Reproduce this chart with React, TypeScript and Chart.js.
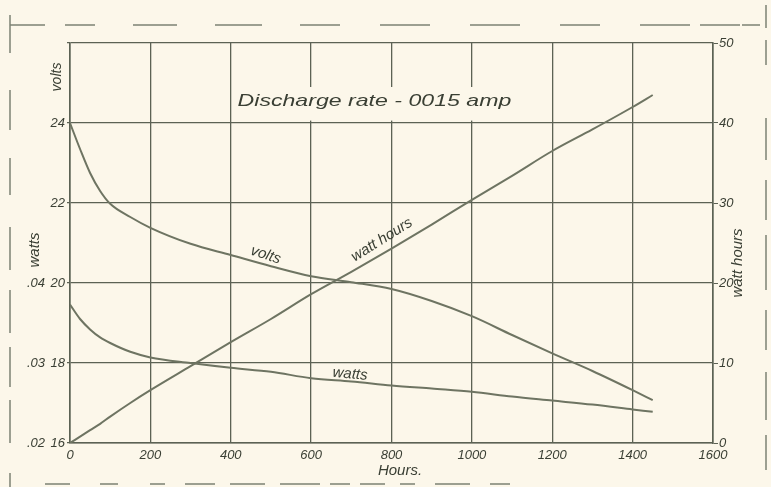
import React, { useEffect, useRef } from "react";
import { Chart, registerables } from "chart.js";
Chart.register(...registerables);

// ---- data ----
const hours = [0, 25, 50, 75, 100, 150, 200, 300, 400, 500, 600, 700, 800, 900, 1000, 1100, 1200, 1300, 1400, 1450];
const volts = [24, 23.35, 22.75, 22.3, 21.98, 21.65, 21.38, 20.98, 20.7, 20.42, 20.17, 20.02, 19.85, 19.55, 19.17, 18.7, 18.24, 17.8, 17.32, 17.07];
const watts = [0.0373, 0.0355, 0.0342, 0.0332, 0.0325, 0.0314, 0.0307, 0.03, 0.0294, 0.0289, 0.0281, 0.0277, 0.0272, 0.0268, 0.0264, 0.0258, 0.0253, 0.0248, 0.0242, 0.0239];
const wattHours = [0, 0.8, 1.6, 2.4, 3.3, 5.0, 6.6, 9.6, 12.6, 15.5, 18.6, 21.4, 24.3, 27.3, 30.4, 33.4, 36.5, 39.2, 42.0, 43.5];

const hourRange = [0, 1600];
const voltRange = [16, 26];
const wattRange = [0.02, 0.07];
const whRange = [0, 50];
const maxVoltLabel = 24;
const maxWattLabel = 0.04;

const titleText = "Discharge rate - 0015 amp";
const xTitle = "Hours.";
const voltsTitle = "volts";
const wattsTitle = "watts";
const whTitle = "watt hours";
const curveLabels = ["volts", "watt hours", "watts"];

const PAPER = "#fcf7ea";
const GRID = "#5c6254";
const CURVE = "#6e7462";
const TEXT = "#3a3f34";
const HAND = "Liberation Sans";

const pts = (ys: number[]) => hours.map((h, i) => ({ x: h, y: ys[i] }));

const paperPlugin = {
  id: "paper",
  beforeDraw(chart: any) {
    const { ctx, width, height } = chart;
    ctx.save();
    ctx.fillStyle = PAPER;
    ctx.fillRect(0, 0, width, height);
    ctx.restore();
  },
  beforeDatasetsDraw(chart: any) {
    const { ctx } = chart;
    const x = chart.scales.x;
    const yv = chart.scales.yVolts;
    // blank box behind the title
    const x0 = x.getPixelForValue(412);
    const x1 = x.getPixelForValue(1180);
    const y0 = yv.getPixelForValue(24.9);
    const y1 = yv.getPixelForValue(24.06);
    ctx.save();
    ctx.fillStyle = PAPER;
    ctx.fillRect(x0, y0, x1 - x0, y1 - y0);
    ctx.fillStyle = TEXT;
    ctx.font = `italic 17px "${HAND}"`;
    ctx.textBaseline = "alphabetic";
    const w = ctx.measureText(titleText).width;
    const target = x.getPixelForValue(1093) - x0;
    ctx.translate(x0 + 2, yv.getPixelForValue(24.42));
    ctx.scale(target / w, 1);
    ctx.fillText(titleText, 0, 0);
    ctx.restore();
  },
  afterDraw(chart: any) {
    const { ctx } = chart;
    const x = chart.scales.x;
    const yv = chart.scales.yVolts;
    const yw = chart.scales.yWatts;
    const yh = chart.scales.yWh;
    const label = (t: string, px: number, py: number, ang: number, size: number) => {
      ctx.save();
      ctx.translate(px, py);
      ctx.rotate((ang * Math.PI) / 180);
      ctx.font = `italic ${size}px "${HAND}"`;
      ctx.fillStyle = TEXT;
      ctx.textAlign = "center";
      ctx.textBaseline = "middle";
      ctx.fillText(t, 0, 0);
      ctx.restore();
    };
    // curve labels
    label(curveLabels[0], x.getPixelForValue(487), yv.getPixelForValue(20.7), 18, 15);
    label(curveLabels[1], x.getPixelForValue(776), yh.getPixelForValue(25.4), -32, 15);
    label(curveLabels[2], x.getPixelForValue(697), yw.getPixelForValue(0.0286), 5, 15);
    // axis titles
    label(xTitle, 400, 471, 0, 15);
    label(voltsTitle, 57, 77, -90, 14);
    label(wattsTitle, 35, 250, -90, 15);
    label(whTitle, 738, 263, -90, 15);

    // scan frame (dashed rough border)
    ctx.save();
    ctx.strokeStyle = "#7d8273";
    ctx.lineWidth = 1.5;
    const seg = (ax: number, ay: number, bx: number, by: number) => {
      ctx.beginPath();
      ctx.moveTo(ax, ay);
      ctx.lineTo(bx, by);
      ctx.stroke();
    };
    const topSegs = [[10, 45], [65, 95], [133, 177], [215, 262], [300, 340], [380, 430], [470, 520], [560, 600], [640, 690], [700, 740], [742, 760]];
    topSegs.forEach(([a, b]) => seg(a, 25, b, 25));
    const leftSegs = [[15, 53], [90, 130], [158, 195], [227, 270], [290, 333], [347, 387], [400, 443], [473, 487]];
    leftSegs.forEach(([a, b]) => seg(10, a, 10, b));
    const rightSegs = [[5, 28], [40, 65], [118, 160], [180, 220], [235, 290], [310, 350], [372, 420], [435, 470]];
    rightSegs.forEach(([a, b]) => seg(766, a, 766, b));
    const botSegs = [[45, 70], [100, 118], [150, 165], [185, 215], [230, 265], [280, 320], [330, 350], [360, 385], [400, 415], [435, 470], [490, 510]];
    botSegs.forEach(([a, b]) => seg(a, 484, b, 484));
    ctx.restore();
  },
};

export default function App() {
  const ref = useRef<HTMLCanvasElement | null>(null);
  useEffect(() => {
    if (!ref.current) return;
    const tickFont = { family: HAND, size: 13, style: "italic" as const };
    const chart = new Chart(ref.current, {
      type: "line",
      data: {
        datasets: [
          { label: "volts", data: pts(volts), yAxisID: "yVolts" },
          { label: "watts", data: pts(watts), yAxisID: "yWatts" },
          { label: "watt hours", data: pts(wattHours), yAxisID: "yWh" },
        ].map((d) => ({
          ...d,
          borderColor: CURVE,
          borderWidth: 2,
          pointRadius: 0,
          fill: false,
          cubicInterpolationMode: "monotone" as const,
        })),
      },
      options: {
        responsive: false,
        animation: false,
        devicePixelRatio: 1,
        layout: { padding: { top: 43, bottom: 0, left: 0, right: 0 } },
        plugins: { legend: { display: false }, tooltip: { enabled: false }, title: { display: false } },
        scales: {
          x: {
            type: "linear",
            min: hourRange[0],
            max: hourRange[1],
            ticks: { stepSize: 200, color: TEXT, font: tickFont, padding: 5, maxRotation: 0, callback: (v: any) => String(v) },
            grid: { color: GRID, lineWidth: 1.3, drawTicks: false },
            border: { color: GRID, width: 1.6 },
            afterFit: (s: any) => { s.height = 44; },
          },
          yVolts: {
            type: "linear",
            position: "left",
            weight: 0,
            min: voltRange[0],
            max: voltRange[1],
            ticks: {
              stepSize: 2,
              color: TEXT,
              font: tickFont,
              padding: 2,
              callback: (v: any) => (v <= maxVoltLabel ? String(v) : ""),
            },
            grid: { color: GRID, lineWidth: 1.3, tickLength: 3 },
            border: { color: GRID, width: 1.6 },
            afterFit: (s: any) => { s.width = 23; },
          },
          yWatts: {
            type: "linear",
            position: "left",
            weight: 1,
            min: wattRange[0],
            max: wattRange[1],
            ticks: {
              stepSize: 0.01,
              color: TEXT,
              font: tickFont,
              padding: 2,
              callback: (v: any) => (v <= maxWattLabel + 1e-6 ? Number(v).toFixed(2).replace(/^0/, "") : ""),
            },
            grid: { display: false, drawTicks: false },
            border: { display: false },
            afterFit: (s: any) => { s.width = 47; },
          },
          yWh: {
            type: "linear",
            position: "right",
            min: whRange[0],
            max: whRange[1],
            ticks: { stepSize: 10, color: TEXT, font: tickFont, padding: 1 },
            grid: { drawOnChartArea: false, color: GRID, tickLength: 5 },
            border: { color: GRID, width: 1.6 },
            afterFit: (s: any) => { s.width = 58; },
          },
        },
      },
      plugins: [paperPlugin],
    });
    return () => chart.destroy();
  }, []);
  return (
    <div style={{ position: "fixed", left: 0, top: 0, width: 771, height: 487, background: PAPER }}>
      <canvas ref={ref} width={771} height={487} style={{ display: "block", width: 771, height: 487 }} />
    </div>
  );
}
